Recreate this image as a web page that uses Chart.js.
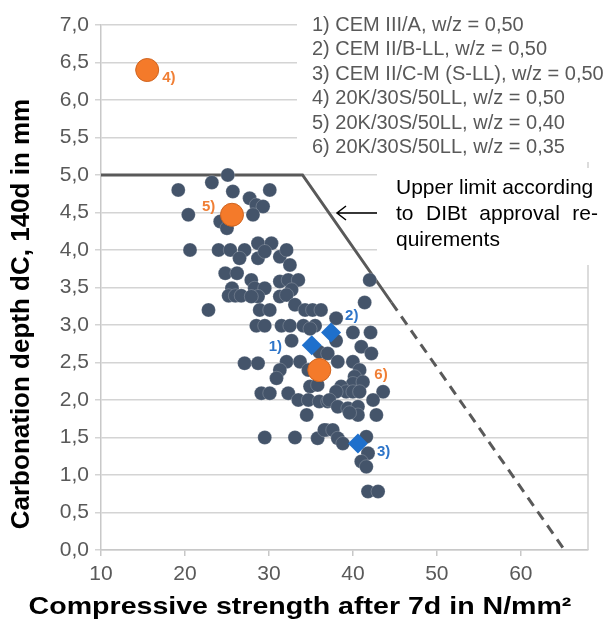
<!DOCTYPE html>
<html>
<head>
<meta charset="utf-8">
<script src="https://cdn.jsdelivr.net/npm/chart.js@4.4.1/dist/chart.umd.min.js"></script>
<style>
  html, body { margin: 0; padding: 0; background: #fff; }
  #wrap { width: 606px; height: 623px; }
</style>
</head>
<body>
<div id="wrap"><canvas id="myChart" width="606" height="623"></canvas></div>
<script>
// measured points (compressive strength 7d, carbonation depth 140d)
const grayX = [25.1, 23.2, 19.2, 25.7, 30.1, 27.7, 28.5, 29.3, 20.4, 28.1, 24.2, 25.0,
  20.6, 24.0, 25.4, 27.1, 26.5, 28.7, 30.3, 28.7, 29.5, 31.3, 32.1,
  24.8, 26.2, 27.9, 25.6, 25.2, 26.0, 26.7, 28.3, 29.5, 28.7, 27.9, 31.3, 31.3,
  22.8, 28.9, 30.1,
  32.5, 32.3, 33.5, 32.7, 32.1, 42.0, 41.4, 33.1, 34.3, 35.2, 36.2, 38.0,
  40.0, 42.1,
  28.5, 29.5, 31.5, 32.5, 34.1, 35.5, 32.7, 34.9, 38.0,
  27.1, 28.7, 32.1, 33.7, 31.3, 30.9, 34.7, 34.9, 35.8, 29.1, 30.1, 32.3, 33.5, 34.7, 36.0, 37.0, 34.5,
  29.5, 33.1, 35.8, 36.8,
  36.0, 37.0, 38.2, 40.0, 41.0, 42.2, 40.8, 40.2, 40.0, 41.2, 43.6, 42.4, 38.6, 39.2, 38.0, 40.0, 40.8,
  37.2, 38.2, 39.4, 40.6, 40.6, 42.8, 39.6, 36.6, 37.6, 38.2, 38.8, 41.6, 41.8, 41.0, 41.6, 41.8, 43.0];
const grayY = [5.0, 4.9, 4.8, 4.78, 4.8, 4.69, 4.6, 4.58, 4.47, 4.47, 4.38, 4.29,
  4.0, 4.0, 4.0, 4.0, 3.89, 4.09, 4.09, 3.89, 3.98, 3.91, 4.0,
  3.69, 3.69, 3.6, 3.49, 3.39, 3.39, 3.39, 3.49, 3.49, 3.38, 3.38, 3.58, 3.38,
  3.2, 3.2, 3.2,
  3.8, 3.6, 3.6, 3.47, 3.4, 3.6, 3.3, 3.27, 3.2, 3.2, 3.2, 3.09,
  2.9, 2.9,
  2.99, 2.99, 2.99, 2.99, 2.99, 2.99, 2.79, 2.95, 2.79,
  2.49, 2.49, 2.51, 2.51, 2.4, 2.29, 2.4, 2.18, 2.2, 2.09, 2.09, 2.09, 2.0, 2.0, 1.98, 1.98, 1.8,
  1.5, 1.5, 1.49, 1.6,
  2.64, 2.62, 2.51, 2.51, 2.71, 2.62, 2.4, 2.31, 2.22, 2.24, 2.11, 2.0, 2.18, 2.11, 2.11, 2.11, 2.11,
  2.0, 1.91, 1.89, 1.91, 1.8, 1.8, 1.83, 1.6, 1.6, 1.49, 1.42, 1.51, 1.29, 1.18, 1.11, 0.78, 0.78];

// cements 1) to 3)
const cemX = [35.1, 37.4, 40.6];
const cemY = [2.73, 2.9, 1.42];
const cemLabels = ['1)', '2)', '3)'];

// 20K/30S/50LL mixes 4) to 6)
const mixX = [15.5, 25.6, 36.0];
const mixY = [6.4, 4.47, 2.4];
const mixLabels = ['4)', '5)', '6)'];

// upper limit (DIBt)
const limitSolidX = [10, 34, 44.6];
const limitSolidY = [5.0, 5.0, 3.3];
const limitDashX = [44.6, 65.2];
const limitDashY = [3.3, 0.0];

const legendLines = [
  '1) CEM III/A, w/z = 0,50',
  '2) CEM II/B-LL, w/z = 0,50',
  '3) CEM II/C-M (S-LL), w/z = 0,50',
  '4) 20K/30S/50LL, w/z = 0,50',
  '5) 20K/30S/50LL, w/z = 0,40',
  '6) 20K/30S/50LL, w/z = 0,35'
];
const noteLines = ['Upper limit according', 'to DIBt approval re-', 'quirements'];
const xTitle = 'Compressive strength after 7d in N/mm²';
const yTitle = 'Carbonation depth dC, 140d in mm';

const pts = (xs, ys) => xs.map((x, i) => ({ x: x, y: ys[i] }));
const FONT = '"Liberation Sans", Arial, sans-serif';

// label offsets in px next to each marker
const cemOffsets = [[-35, 2], [22, -17], [27, 8]];
const mixOffsets = [[23, 8], [-22, -8], [63, 5]];

const extras = {
  id: 'extras',
  beforeDatasetsDraw(chart) {
    const ctx = chart.ctx;
    const a = chart.chartArea;
    ctx.save();
    // right frame line
    ctx.strokeStyle = '#d0d0d0';
    ctx.lineWidth = 1.5;
    ctx.beginPath();
    ctx.moveTo(a.right, a.top);
    ctx.lineTo(a.right, a.bottom);
    ctx.stroke();
    // white boxes behind the texts
    ctx.fillStyle = '#fff';
    ctx.fillRect(297, 6, 309, 156);
    ctx.fillRect(377, 168, 229, 97);
    // arrow
    ctx.strokeStyle = '#000';
    ctx.lineWidth = 1.5;
    ctx.beginPath();
    ctx.moveTo(377, 213);
    ctx.lineTo(337, 213);
    ctx.moveTo(346, 206);
    ctx.lineTo(337, 213);
    ctx.lineTo(346, 220);
    ctx.stroke();
    ctx.restore();
  },
  afterDatasetsDraw(chart) {
    const ctx = chart.ctx;
    const xs = chart.scales.x, ys = chart.scales.y;
    ctx.save();
    ctx.textBaseline = 'middle';
    // legend text
    ctx.fillStyle = '#595959';
    ctx.font = '20px ' + FONT;
    ctx.textAlign = 'left';
    legendLines.forEach((t, i) => ctx.fillText(t, 312, 25 + i * 24.5));
    // note text, justified like the original
    ctx.fillStyle = '#000';
    ctx.font = '21px ' + FONT;
    const left = 396, right = 598;
    ctx.fillText(noteLines[0], left, 188);
    const words = noteLines[1].split(' ');
    const wsum = words.reduce((s, w) => s + ctx.measureText(w).width, 0);
    const gap = (right - left - wsum) / (words.length - 1);
    let cx = left;
    words.forEach(w => { ctx.fillText(w, cx, 214); cx += ctx.measureText(w).width + gap; });
    ctx.fillText(noteLines[2], left, 240);
    // marker labels
    ctx.font = 'bold 15px ' + FONT;
    ctx.fillStyle = '#2e75c9';
    cemLabels.forEach((t, i) => {
      ctx.fillText(t, xs.getPixelForValue(cemX[i]) + cemOffsets[i][0] - 8, ys.getPixelForValue(cemY[i]) + cemOffsets[i][1]);
    });
    ctx.fillStyle = '#f07f35';
    mixLabels.forEach((t, i) => {
      ctx.fillText(t, xs.getPixelForValue(mixX[i]) + mixOffsets[i][0] - 8, ys.getPixelForValue(mixY[i]) + mixOffsets[i][1]);
    });
    // axis titles (the original figure is a bit stretched sideways)
    ctx.fillStyle = '#000';
    ctx.textAlign = 'center';
    ctx.save();
    ctx.font = 'bold 24px ' + FONT;
    ctx.translate(300, 607);
    ctx.scale(1.19, 1);
    ctx.fillText(xTitle, 0, 0);
    ctx.restore();
    ctx.font = 'bold 26px ' + FONT;
    ctx.translate(22, 314);
    ctx.rotate(-Math.PI / 2);
    ctx.fillText(yTitle, 0, 0);
    ctx.restore();
  }
};

const ctx = document.getElementById('myChart').getContext('2d');
new Chart(ctx, {
  type: 'scatter',
  data: {
    datasets: [
      {
        label: 'mix',
        data: pts(mixX, mixY),
        pointRadius: 11.5,
        pointHoverRadius: 11.5,
        backgroundColor: '#f47a2a',
        borderColor: '#cf6420',
        borderWidth: 1
      },
      {
        label: 'cem',
        data: pts(cemX, cemY),
        pointStyle: 'rectRot',
        pointRadius: 10,
        pointHoverRadius: 10,
        backgroundColor: '#1f70cc',
        borderColor: '#1f70cc',
        borderWidth: 0
      },
      {
        label: 'all',
        data: pts(grayX, grayY),
        pointRadius: 7,
        pointHoverRadius: 7,
        backgroundColor: '#44546a',
        borderColor: 'rgba(255,255,255,0.25)',
        borderWidth: 0.8
      },
      {
        label: 'limit',
        type: 'line',
        data: pts(limitSolidX, limitSolidY),
        borderColor: '#595959',
        borderWidth: 3,
        pointRadius: 0,
        fill: false,
        tension: 0
      },
      {
        label: 'limit dashed',
        type: 'line',
        data: pts(limitDashX, limitDashY),
        borderColor: '#595959',
        borderWidth: 3,
        borderDash: [10, 7],
        pointRadius: 0,
        fill: false,
        tension: 0
      }
    ]
  },
  options: {
    responsive: false,
    animation: false,
    layout: { padding: { left: 0, right: 18, top: 25, bottom: 0 } },
    plugins: {
      legend: { display: false },
      tooltip: { enabled: false }
    },
    scales: {
      x: {
        type: 'linear',
        min: 10,
        max: 68,
        afterFit(scale) { scale.height = 73; },
        afterBuildTicks(scale) { scale.ticks = scale.ticks.filter(t => t.value % 10 === 0); },
        ticks: {
          stepSize: 10,
          color: '#595959',
          font: { family: FONT, size: 21 },
          padding: 6
        },
        grid: { drawOnChartArea: false, drawTicks: true, tickLength: 6, color: '#c8c8c8', lineWidth: 1.5 },
        border: { color: '#c8c8c8', width: 1.5 }
      },
      y: {
        min: 0,
        max: 7,
        afterFit(scale) { scale.width = 101; },
        ticks: {
          stepSize: 0.5,
          color: '#595959',
          font: { family: FONT, size: 21 },
          padding: 6,
          callback: v => v.toFixed(1).replace('.', ',')
        },
        grid: { color: '#d4d4d4', lineWidth: 1.5, tickLength: 6 },
        border: { color: '#c8c8c8', width: 1.5 }
      }
    }
  },
  plugins: [extras]
});
</script>
</body>
</html>
